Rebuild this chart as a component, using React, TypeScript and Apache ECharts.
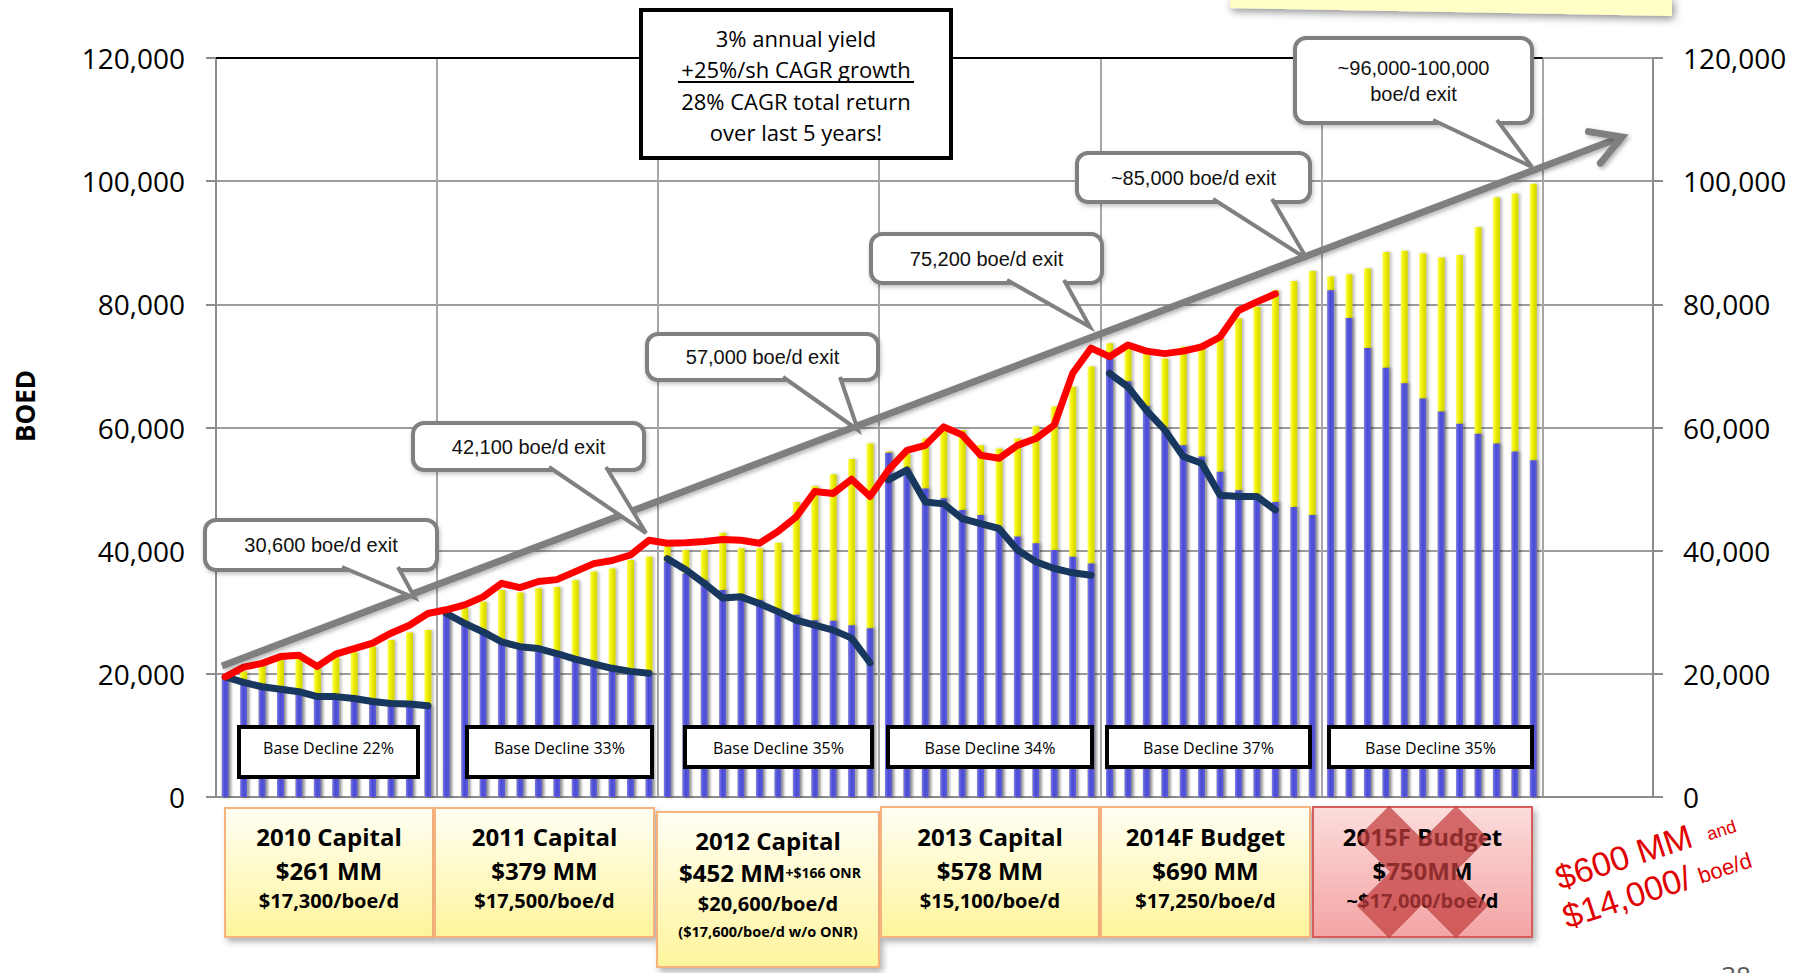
import React, { useEffect, useRef } from "react";
import * as echarts from "echarts";

// ---------- data ----------
const monthNames = ["Jan", "Feb", "Mar", "Apr", "May", "Jun", "Jul", "Aug", "Sep", "Oct", "Nov", "Dec"];
const years = ["2010", "2011", "2012", "2013", "2014", "2015"];
const months = years.flatMap((y) => monthNames.map((m) => `${m} ${y}`));
// empty slots kept to the right of Dec 2015
const spareSlots = [" ", "  ", "   ", "    ", "     ", "      "];

// production from the existing (base) wells, boe/d
const baseProduction = [
  19500, 18900, 18200, 17600, 17100, 16500, 16300, 16000, 15700, 15400, 15200, 14900,
  29800, 28400, 26900, 25400, 24600, 24200, 23400, 22500, 21700, 21000, 20500, 20200,
  38200, 36300, 35200, 33600, 32500, 32000, 30400, 29600, 28700, 28600, 27900, 27400,
  55900, 53400, 50100, 48500, 46600, 45800, 43900, 42300, 41200, 40100, 39000, 37900,
  71200, 67500, 63500, 59900, 57100, 55300, 52800, 49800, 48800, 47900, 47100, 45800,
  82300, 77800, 72900, 69700, 67200, 64700, 62600, 60600, 59000, 57400, 56100, 54700,
];

// total forecast production including new wells, boe/d
const totalProduction = [
  19600, 20400, 21700, 23000, 23000, 21200, 22700, 23500, 24400, 25500, 26700, 27100,
  30200, 30700, 31700, 33600, 33200, 33900, 34100, 35200, 36600, 37100, 38500, 39000,
  41300, 40100, 40100, 42900, 40400, 40400, 41300, 47900, 50500, 52400, 54900, 57400,
  56100, 55700, 58200, 59600, 59600, 57100, 56600, 58200, 60200, 63400, 66600, 69900,
  73700, 73500, 72000, 71200, 73100, 73600, 74500, 77700, 79600, 82300, 83800, 85400,
  84500, 84900, 85800, 88500, 88700, 88300, 87600, 88000, 92500, 97400, 98000, 99600,
];

// actual production, Jan 2010 - Oct 2014
const actualProduction = [
  19500, 21100, 21700, 22800, 23000, 21200, 23200, 24100, 25000, 26600, 27900, 29800,
  30400, 31200, 32500, 34700, 34000, 35000, 35300, 36600, 37900, 38400, 39300, 41700,
  41200, 41300, 41500, 41800, 41700, 41200, 43100, 45500, 49600, 49300, 51600, 48800,
  53100, 56300, 57100, 60100, 58800, 55500, 55000, 57100, 58200, 60400, 68800, 72900,
  71500, 73400, 72400, 72000, 72400, 73100, 74700, 79000, 80400, 81700,
];

// actual base decline by year
const baseDecline2010 = [19500, 18600, 17900, 17500, 17100, 16300, 16300, 16000, 15500, 15200, 15100, 14800];
const baseDecline2011 = [29800, 28200, 26800, 25200, 24400, 24100, 23300, 22400, 21600, 20900, 20400, 20100];
const baseDecline2012 = [38700, 36900, 34700, 32300, 32500, 31400, 30100, 28700, 27900, 27100, 25800, 21800];
const baseDecline2013 = [51500, 53100, 47900, 47600, 45200, 44400, 43600, 40100, 38200, 37100, 36400, 36000];
const baseDecline2014 = [68800, 66600, 62800, 59600, 55300, 54200, 49000, 48800, 48800, 46600];
const baseDeclineByYear = [baseDecline2010, baseDecline2011, baseDecline2012, baseDecline2013, baseDecline2014];

const yMax = 120000;
const yStep = 20000;

const declineRates = ["22%", "33%", "35%", "34%", "37%", "35%"];
const exitLabels = [
  ["30,600 boe/d exit"],
  ["42,100 boe/d exit"],
  ["57,000 boe/d exit"],
  ["75,200 boe/d exit"],
  ["~85,000 boe/d exit"],
  ["~96,000-100,000", "boe/d exit"],
];
const capitalTitles = ["2010 Capital", "2011 Capital", "2012 Capital", "2013 Capital", "2014F Budget", "2015F Budget"];
const capitalAmounts = ["$261 MM", "$379 MM", "$452 MM", "$578 MM", "$690 MM", "$750MM"];
const capitalCosts = ["$17,300/boe/d", "$17,500/boe/d", "$20,600/boe/d", "$15,100/boe/d", "$17,250/boe/d", "~$17,000/boe/d"];
const returnNotes = ["3% annual yield", "+25%/sh CAGR growth", "28% CAGR total return", "over last 5 years!"];

// ---------- layout ----------
const GRID_L = 216;
const GRID_T = 58;
const GRID_W = 1437;
const GRID_H = 739;
const SLOT = GRID_W / (months.length + spareSlots.length);

const SANS = '"Open Sans", sans-serif';
const ARIAL = '"Liberation Sans", Arial, sans-serif';
const GREY = "#808080";

type P = [number, number];

function text(x: number, y: number, t: string, s: any = {}, z = 40): any {
  return {
    type: "text",
    x,
    y,
    z,
    silent: true,
    style: {
      text: t,
      fill: "#000",
      fontFamily: SANS,
      fontSize: 16,
      align: "center",
      verticalAlign: "middle",
      textAlign: "center",
      textVerticalAlign: "middle",
      ...s,
    },
  };
}

const calloutGeom = [
  { box: [205, 520, 232, 50], base: [342, 398], tip: [415, 598] as P },
  { box: [413, 423, 231, 47], base: [549, 606], tip: [646, 533] as P },
  { box: [647, 334, 231, 46], base: [783, 840], tip: [858, 430] as P },
  { box: [871, 234, 231, 49], base: [1007, 1064], tip: [1090, 327] as P },
  { box: [1077, 153, 233, 49], base: [1213, 1272], tip: [1307, 259] as P },
  { box: [1295, 38, 237, 85], base: [1433, 1497], tip: [1532, 167] as P },
];

function callout(i: number): any[] {
  const { box, base, tip } = calloutGeom[i];
  const [x, y, w, h] = box;
  const by = y + h - 3;
  const lines = exitLabels[i];
  const cy = y + h / 2;
  const els: any[] = [
    {
      type: "rect",
      z: 30,
      silent: true,
      shape: { x, y, width: w, height: h, r: 11 },
      style: { fill: "#fff", stroke: GREY, lineWidth: 4, shadowBlur: 4, shadowOffsetX: 1, shadowOffsetY: 2, shadowColor: "rgba(0,0,0,0.25)" },
    },
    {
      type: "polygon",
      z: 31,
      silent: true,
      shape: { points: [[base[0], by], tip, [base[1], by]] },
      style: { fill: "#fff" },
    },
    {
      type: "polyline",
      z: 31,
      silent: true,
      shape: { points: [[base[0], by], tip, [base[1], by]] },
      style: { stroke: GREY, lineWidth: 4, fill: null, lineJoin: "miter" },
    },
  ];
  lines.forEach((ln, k) => {
    const off = (k - (lines.length - 1) / 2) * 26;
    els.push(text(x + w / 2, cy + off, ln, { fontFamily: ARIAL, fontSize: 20, fill: "#111" }));
  });
  return els;
}

function arrow(): any[] {
  const start: P = [222, 666];
  const tip: P = [1622, 137];
  const back = Math.atan2(start[1] - tip[1], start[0] - tip[0]);
  const len = 34;
  const a1: P = [tip[0] + len * Math.cos(back + 0.52), tip[1] + len * Math.sin(back + 0.52)];
  const a2: P = [tip[0] + len * Math.cos(back - 0.52), tip[1] + len * Math.sin(back - 0.52)];
  const st = { stroke: "#7F7F7F", lineWidth: 7, fill: null, shadowBlur: 4, shadowOffsetX: 2, shadowOffsetY: 2, shadowColor: "rgba(0,0,0,0.3)" };
  return [
    { type: "line", z: 20, silent: true, shape: { x1: start[0], y1: start[1], x2: tip[0] - 3, y2: tip[1] + 1 }, style: { ...st, lineCap: "butt" } },
    { type: "polyline", z: 20, silent: true, shape: { points: [a1, tip, a2] }, style: { ...st, lineCap: "round", lineJoin: "miter" } },
  ];
}

function returnBox(): any[] {
  const els: any[] = [
    { type: "rect", z: 30, silent: true, shape: { x: 641, y: 10, width: 310, height: 148 }, style: { fill: "#fff", stroke: "#000", lineWidth: 4 } },
  ];
  const ys = [38, 69, 101, 132];
  returnNotes.forEach((t, i) => els.push(text(796, ys[i], t, { fontSize: 22 })));
  els.push({ type: "line", z: 40, silent: true, shape: { x1: 678, y1: 82, x2: 914, y2: 82 }, style: { stroke: "#000", lineWidth: 2 } });
  return els;
}

const declineGeom = [
  [239, 727, 179, 50],
  [467, 727, 185, 50],
  [685, 727, 187, 40],
  [888, 727, 204, 40],
  [1107, 727, 203, 40],
  [1329, 727, 203, 40],
];

function declineBoxes(): any[] {
  const els: any[] = [];
  declineGeom.forEach(([x, y, w, h], i) => {
    els.push({ type: "rect", z: 30, silent: true, shape: { x, y, width: w, height: h }, style: { fill: "#fff", stroke: "#000", lineWidth: 4 } });
    els.push(text(x + w / 2, y + 21, `Base Decline ${declineRates[i]}`, { fontSize: 16 }));
  });
  return els;
}

const capitalGeom = [
  [225, 808, 208, 129],
  [435, 808, 219, 129],
  [657, 812, 222, 155],
  [881, 807, 218, 130],
  [1101, 807, 209, 130],
  [1313, 807, 219, 130],
];

function xMark(cx: number, cy: number, L: number, w: number): P[] {
  const pts: P[] = [[w, -L], [w, -w], [L, -w], [L, w], [w, w], [w, L], [-w, L], [-w, w], [-L, w], [-L, -w], [-w, -w], [-w, -L]];
  const c = Math.SQRT1_2;
  return pts.map(([x, y]) => [cx + (x - y) * c, cy + (x + y) * c] as P);
}

function capitalBoxes(): any[] {
  const els: any[] = [];
  capitalGeom.forEach(([x, y, w, h], i) => {
    const cut = i === 5;
    els.push({
      type: "rect",
      z: 30,
      silent: true,
      shape: { x, y, width: w, height: h },
      style: {
        fill: {
          type: "linear", x: 0, y: 0, x2: 0, y2: 1,
          colorStops: cut
            ? [{ offset: 0, color: "#FCDCDC" }, { offset: 1, color: "#F4A4A4" }]
            : [{ offset: 0, color: "#FFFFF4" }, { offset: 1, color: "#FFF49C" }],
        },
        stroke: cut ? "#D85C5C" : "#F6B37E",
        lineWidth: 2,
        shadowBlur: 6,
        shadowOffsetX: 3,
        shadowOffsetY: 4,
        shadowColor: "rgba(0,0,0,0.3)",
      },
    });
    const cx = x + w / 2;
    const two = i === 2;
    els.push(text(cx, two ? 840 : 836, capitalTitles[i], { fontSize: 24, fontWeight: "bold" }));
    if (two) {
      els.push(
        text(cx + 2, 872, `${capitalAmounts[i]}{s|+$166 ONR}`, {
          fontSize: 24,
          fontWeight: "bold",
          rich: { s: { fontSize: 14, fontWeight: "bold", fontFamily: SANS, fill: "#000" } },
        })
      );
      els.push(text(cx, 903, capitalCosts[i], { fontSize: 20, fontWeight: "bold" }));
      els.push(text(cx, 931, "($17,600/boe/d w/o ONR)", { fontSize: 14.5, fontWeight: "bold" }));
    } else {
      els.push(text(cx, 870, capitalAmounts[i], { fontSize: 24, fontWeight: "bold" }));
      els.push(text(cx, 900, capitalCosts[i], { fontSize: 20, fontWeight: "bold" }));
    }
    if (cut) {
      els.push({
        type: "polygon",
        z: 45,
        silent: true,
        shape: { points: xMark(cx, y + h / 2, 70, 22.6) },
        style: { fill: "rgba(196,62,62,0.72)", stroke: "rgba(170,50,50,0.5)", lineWidth: 1 },
      });
    }
  });
  return els;
}

function handNote(): any {
  const red = "#E00000";
  const hs = { fontFamily: ARIAL, fill: red, align: "left", textAlign: "left", verticalAlign: "bottom", textVerticalAlign: "bottom" };
  return {
    type: "group",
    x: 1560,
    y: 890,
    rotation: 0.314,
    z: 50,
    silent: true,
    children: [
      text(0, 5, "$600 MM", { ...hs, fontSize: 34 }),
      text(157, 2, "and", { ...hs, fontSize: 18 }),
      text(-5, 44, "$14,000/", { ...hs, fontSize: 34 }),
      text(136, 41, "boe/d", { ...hs, fontSize: 22 }),
    ],
  };
}

function buildOption(): any {
  const xMaxPos = GRID_L + months.length * SLOT;
  const graphic: any[] = [
    {
      type: "polygon",
      z: 10,
      silent: true,
      shape: { points: [[1230, -2], [1672, -2], [1672, 16], [1230, 8]] },
      style: { fill: "#FFFFC6", shadowBlur: 8, shadowOffsetX: 2, shadowOffsetY: 3, shadowColor: "rgba(0,0,0,0.45)" },
    },
    { type: "line", z: 10, silent: true, shape: { x1: GRID_L, y1: GRID_T, x2: xMaxPos, y2: GRID_T }, style: { stroke: "#000", lineWidth: 2 } },
    ...arrow(),
    ...calloutGeom.flatMap((_, i) => callout(i)),
    ...returnBox(),
    ...declineBoxes(),
    ...capitalBoxes(),
    handNote(),
    { ...text(25, 406, "BOED", { fontSize: 26, fontWeight: "bold" }), rotation: Math.PI / 2 },
    text(1736, 962, "38", { fontSize: 26, fill: "#595959", verticalAlign: "top", textVerticalAlign: "top" }),
  ];

  const axisGrey = "#8C8C8C";
  const yAxisBase = {
    type: "value",
    min: 0,
    max: yMax,
    interval: yStep,
    axisLine: { show: true, lineStyle: { color: axisGrey, width: 2 } },
    axisTick: { show: true, inside: false, length: 10, lineStyle: { color: axisGrey, width: 2 } },
    axisLabel: {
      fontFamily: SANS,
      fontSize: 28,
      color: "#000",
      formatter: (v: number) => v.toLocaleString("en-US"),
    },
  };

  const blueFill = {
    type: "linear", x: 0, y: 0, x2: 1, y2: 0,
    colorStops: [
      { offset: 0, color: "#7C7CEC" },
      { offset: 0.45, color: "#4A4AD4" },
      { offset: 1, color: "#5E5EDB" },
    ],
  };
  const yellowFill = {
    type: "linear", x: 0, y: 0, x2: 1, y2: 0,
    colorStops: [
      { offset: 0, color: "#FFFF5A" },
      { offset: 0.45, color: "#EDED00" },
      { offset: 1, color: "#D2D200" },
    ],
  };
  const barShadow = { shadowBlur: 3, shadowOffsetX: 2, shadowColor: "rgba(0,0,0,0.28)" };

  const navySeries = baseDeclineByYear.map((vals, k) => ({
    type: "line",
    name: `Base decline ${years[k]}`,
    silent: true,
    z: 5,
    symbol: "none",
    data: vals.map((v, i) => [k * 12 + i, v]),
    lineStyle: { color: "#17375E", width: 7, cap: "round", join: "round" },
  }));

  return {
    animation: false,
    backgroundColor: "#fff",
    grid: { left: GRID_L, top: GRID_T, width: GRID_W, height: GRID_H, containLabel: false, outerBoundsMode: "none" },
    xAxis: {
      type: "category",
      data: [...months, ...spareSlots],
      boundaryGap: true,
      axisLine: { show: true, lineStyle: { color: axisGrey, width: 2 } },
      axisTick: { show: false },
      axisLabel: { show: false },
      splitLine: {
        show: true,
        interval: (i: number) => i % 12 === 0,
        lineStyle: { color: "#A6A6A6", width: 2 },
      },
    },
    yAxis: [
      {
        ...yAxisBase,
        position: "left",
        axisLabel: { ...yAxisBase.axisLabel, margin: 31 },
        splitLine: { show: true, lineStyle: { color: "#9C9C9C", width: 2 } },
      },
      {
        ...yAxisBase,
        position: "right",
        axisLabel: { ...yAxisBase.axisLabel, margin: 30 },
        splitLine: { show: false },
      },
    ],
    series: [
      {
        type: "bar",
        name: "Total production",
        silent: true,
        data: totalProduction,
        barWidth: 7,
        barGap: "-100%",
        itemStyle: { color: yellowFill, ...barShadow },
        z: 2,
      },
      {
        type: "bar",
        name: "Base production",
        silent: true,
        data: baseProduction,
        barWidth: 7,
        barGap: "-100%",
        itemStyle: { color: blueFill, ...barShadow },
        z: 3,
      },
      ...navySeries,
      {
        type: "line",
        name: "Actual production",
        silent: true,
        z: 6,
        symbol: "none",
        data: actualProduction,
        lineStyle: { color: "#FF0000", width: 7, cap: "round", join: "round" },
      },
    ],
    graphic,
  };
}

export default function App() {
  const ref = useRef<HTMLDivElement>(null);
  useEffect(() => {
    if (!ref.current) return;
    const chart = echarts.init(ref.current, null, { renderer: "svg" });
    chart.setOption(buildOption());
    return () => chart.dispose();
  }, []);
  return (
    <div
      ref={ref}
      style={{ position: "fixed", left: 0, top: 0, width: 1806, height: 973, background: "#fff" }}
    />
  );
}
